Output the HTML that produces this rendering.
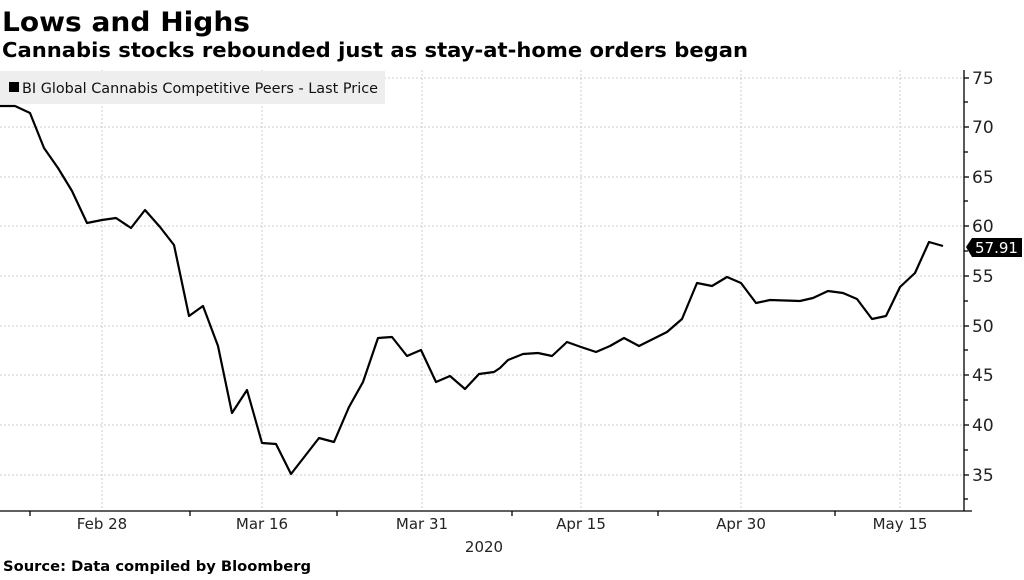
<!DOCTYPE html>
<html><head><meta charset="utf-8"><style>
body{margin:0;width:1024px;height:576px;background:#fff;overflow:hidden;font-family:"DejaVu Sans","Liberation Sans",sans-serif}
</style></head><body>
<svg width="1024" height="576" xmlns="http://www.w3.org/2000/svg" font-family="DejaVu Sans, Liberation Sans, sans-serif">
<text x="2" y="31" font-size="27" font-weight="bold" fill="#000" textLength="248" lengthAdjust="spacingAndGlyphs">Lows and Highs</text>
<text x="2" y="57" font-size="20" font-weight="bold" fill="#000" textLength="746" lengthAdjust="spacingAndGlyphs">Cannabis stocks rebounded just as stay-at-home orders began</text>
<g stroke="#ccc" stroke-width="1" stroke-dasharray="2,2">
<line x1="0" y1="78" x2="964" y2="78"/><line x1="0" y1="127" x2="964" y2="127"/>
<line x1="0" y1="177" x2="964" y2="177"/><line x1="0" y1="226" x2="964" y2="226"/>
<line x1="0" y1="276" x2="964" y2="276"/><line x1="0" y1="326" x2="964" y2="326"/>
<line x1="0" y1="375" x2="964" y2="375"/><line x1="0" y1="425" x2="964" y2="425"/>
<line x1="0" y1="475" x2="964" y2="475"/>
<line x1="102" y1="70" x2="102" y2="511"/><line x1="262" y1="70" x2="262" y2="511"/>
<line x1="422" y1="70" x2="422" y2="511"/><line x1="581" y1="70" x2="581" y2="511"/>
<line x1="741" y1="70" x2="741" y2="511"/><line x1="900" y1="70" x2="900" y2="511"/>
</g>
<rect x="0" y="71" width="385" height="33" fill="#eeeeee"/>
<rect x="9" y="82" width="10" height="10" fill="#000"/>
<text x="22" y="93" font-size="14" fill="#111" textLength="356" lengthAdjust="spacingAndGlyphs">BI Global Cannabis Competitive Peers - Last Price</text>
<polyline fill="none" stroke="#000" stroke-width="2.2" stroke-linejoin="round" points="0,106 15,106 30,113 44,148 58,168 72,191 87,223 102,220 116,218 131,228 145,210 160,227 174,245 189,316 203,306 218,346 232,413 247,390 262,443 276,444 291,474 305,456 319,438 334,442 349,407 363,382 378,338 392,337 407,356 421,350 436,382 450,376 465,389 479,374 494,372 500,368 508,360 523,354 538,353 552,356 567,342 581,347 596,352 610,346 624,338 639,346 653,339 667,332 682,319 697,283 712,286 727,277 741,283 756,303 770,300 800,301 813,298 828,291 843,293 857,299 872,319 886,316 900,287 915,273 929,242 943,246"/>
<g stroke="#000" stroke-width="1.3">
<line x1="964" y1="70" x2="964" y2="511"/>
<line x1="0" y1="511" x2="972" y2="511"/>
<line x1="964" y1="78" x2="969" y2="78"/><line x1="964" y1="127" x2="969" y2="127"/>
<line x1="964" y1="177" x2="969" y2="177"/><line x1="964" y1="226" x2="969" y2="226"/>
<line x1="964" y1="276" x2="969" y2="276"/><line x1="964" y1="326" x2="969" y2="326"/>
<line x1="964" y1="375" x2="969" y2="375"/><line x1="964" y1="425" x2="969" y2="425"/>
<line x1="964" y1="475" x2="969" y2="475"/>
<line x1="964" y1="102" x2="968" y2="102"/><line x1="964" y1="152" x2="968" y2="152"/>
<line x1="964" y1="201" x2="968" y2="201"/><line x1="964" y1="251" x2="968" y2="251"/>
<line x1="964" y1="301" x2="968" y2="301"/><line x1="964" y1="350" x2="968" y2="350"/>
<line x1="964" y1="400" x2="968" y2="400"/><line x1="964" y1="450" x2="968" y2="450"/>
<line x1="964" y1="499" x2="968" y2="499"/>
<line x1="30" y1="511" x2="30" y2="516"/><line x1="190" y1="511" x2="190" y2="516"/>
<line x1="337" y1="511" x2="337" y2="516"/><line x1="512" y1="511" x2="512" y2="516"/>
<line x1="658" y1="511" x2="658" y2="516"/><line x1="835" y1="511" x2="835" y2="516"/>
</g>
<g font-size="17" fill="#222">
<text x="972" y="84">75</text><text x="972" y="133">70</text><text x="972" y="183">65</text>
<text x="972" y="232">60</text><text x="972" y="282">55</text><text x="972" y="332">50</text>
<text x="972" y="381">45</text><text x="972" y="431">40</text><text x="972" y="481">35</text>
</g>
<polygon points="966,247 972,238 1022,238 1022,257 972,257" fill="#000"/>
<text x="975" y="253" font-size="15" fill="#fff">57.91</text>
<g font-size="15" fill="#222" text-anchor="middle">
<text x="102" y="529">Feb 28</text><text x="262" y="529">Mar 16</text><text x="422" y="529">Mar 31</text>
<text x="581" y="529">Apr 15</text><text x="741" y="529">Apr 30</text><text x="900" y="529">May 15</text>
<text x="484" y="552">2020</text>
</g>
<text x="3" y="571" font-size="14" font-weight="bold" fill="#000" textLength="308" lengthAdjust="spacingAndGlyphs">Source: Data compiled by Bloomberg</text>
</svg>
</body></html>
